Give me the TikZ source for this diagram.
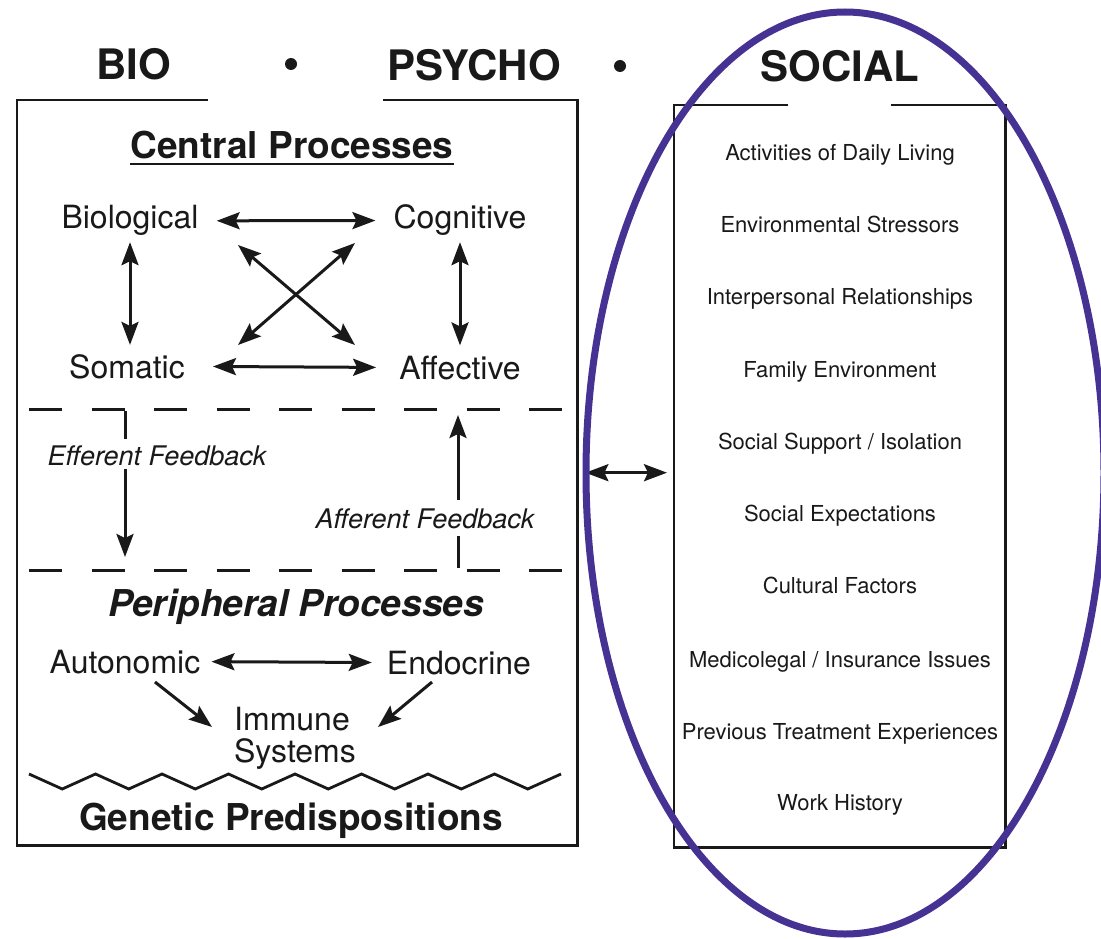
\documentclass[tikz,border=0pt]{standalone}
\usepackage{fontspec}
\setmainfont{TeX Gyre Heros}
\usetikzlibrary{arrows.meta}
\definecolor{ovalpurple}{RGB}{70,50,146}
\definecolor{ink}{RGB}{25,25,25}
\begin{document}
\begin{tikzpicture}[x=1pt,y=-1pt,
  every node/.style={text=ink},
  lbl/.style={inner sep=0pt, anchor=base, font=\fontsize{32}{36}\selectfont},
  head/.style={inner sep=0pt, anchor=base, font=\fontsize{42}{46}\selectfont\bfseries},
  title/.style={inner sep=0pt, anchor=base, font=\fontsize{37}{40}\selectfont\bfseries},
  fb/.style={inner sep=0pt, anchor=base, font=\fontsize{27}{30}\selectfont\itshape},
  soc/.style={inner sep=0pt, anchor=base, font=\fontsize{22}{24}\selectfont},
  box/.style={draw=ink, line width=2.3pt},
  arr/.style={draw=ink, line width=3pt, -{Stealth[length=23pt,width=17pt,inset=4pt]}},
  darr/.style={draw=ink, line width=3pt, {Stealth[length=23pt,width=17pt,inset=4pt]}-{Stealth[length=23pt,width=17pt,inset=4pt]}},
  plain/.style={draw=ink, line width=3pt},
  dline/.style={draw=ink, line width=3pt, dash pattern=on 33pt off 29.5pt},
  oval/.style={draw=ovalpurple, line width=7pt}
]
\fill[white] (0,0) rectangle (1101,939);
\clip (0,0) rectangle (1101,939);

% headings
\node[head] (bioh) at (134,80) {BIO};
\node[head] (psyh) at (474,81) {PSYCHO};
\node[head] (soch) at (840,82) {SOCIAL};
\fill[ink] (291,64) circle (6);
\fill[ink] (620,66) circle (6);

% boxes
\node[minimum width=560pt, minimum height=745pt, inner sep=0pt, anchor=north west] (L) at (17,100) {};
\node[minimum width=331pt, minimum height=742pt, inner sep=0pt, anchor=north west] (R) at (674,105) {};
\draw[box] ([xshift=191pt]L.north west) -- (L.north west) -- (L.south west) -- (L.south east) -- (L.north east) -- ([xshift=-194pt]L.north east);
\draw[box] ([xshift=114pt]R.north west) -- (R.north west) -- (R.south west) -- (R.south east) -- (R.north east) -- ([xshift=-114pt]R.north east);

% central processes
\node[title] (cp) at (292,159) {Central Processes};
\draw[line width=2.4pt, draw=ink] ([yshift=-5pt]cp.base west) -- ([yshift=-5pt]cp.base east);

\node[lbl] (bio) at (130,229) {Biological};
\node[lbl] (cog) at (460,229) {Cognitive};
\node[lbl] (som) at (127,378) {Somatic};
\node[lbl] (aff) at (460,379) {Affective};

\draw[darr, shorten <=18pt, shorten >=18pt] (bio.east) -- (cog.west);
\draw[darr, shorten <=28pt, shorten >=23pt] (som.east) -- (aff.west);
\draw[darr, shorten <=6pt, shorten >=9pt] (bio.south) -- (bio.south |- som.north);
\draw[darr, shorten <=6pt, shorten >=10pt] (cog.south) -- (cog.south |- aff.north);

\coordinate (x1a) at (238,245);
\coordinate (x1b) at (355,345);
\coordinate (x2a) at (355,243);
\coordinate (x2b) at (238,345);
\draw[darr] (x1a) -- (x1b);
\draw[darr] (x2a) -- (x2b);

% dashed separators
\coordinate (d1l) at (29,409);
\coordinate (d1r) at (562,409);
\coordinate (d2l) at (29,570);
\coordinate (d2r) at (562,570);
\draw[dline] (d1l) -- (d1r);
\draw[dline] (d2l) -- (d2r);

% feedback
\node[fb] (eff) at (157,465) {Efferent Feedback};
\node[fb] (afb) at (425,528) {Afferent Feedback};
\coordinate (efft) at (125,409);
\coordinate (effb) at (125,570);
\coordinate (afft) at (458,409);
\coordinate (affb) at (458,570);
\draw[plain, shorten <=2pt, shorten >=6pt] (efft) -- (efft |- eff.north);
\draw[arr, shorten <=3pt, shorten >=13pt] (effb |- eff.south) -- (effb);
\draw[plain, shorten <=2pt, shorten >=7pt] (affb) -- (affb |- afb.south);
\draw[arr, shorten <=8pt, shorten >=6pt] (afft |- afb.north) -- (afft);

% peripheral processes
\node[title, font=\fontsize{37}{40}\selectfont\bfseries\itshape] (pp) at (296,616) {Peripheral Processes};
\node[lbl] (aut) at (125,673) {Autonomic};
\node[lbl] (end) at (459,674) {Endocrine};
\node[lbl] (imm) at (292,730) {Immune};
\node[lbl] (sys) at (295,762) {Systems};
\draw[darr, shorten <=11pt, shorten >=15pt] (aut.east) -- (end.west);
\coordinate (a1) at (155,682);
\coordinate (a2) at (212,727);
\coordinate (e1) at (432,682);
\coordinate (e2) at (378,727);
\draw[arr] (a1) -- (a2);
\draw[arr] (e1) -- (e2);

% zigzag
\draw[draw=ink, line width=2.8pt, line join=miter]
  (29,774) \foreach \i in {1,...,16} {
    -- ({29+\i*33.25}, {mod(\i,2)==1 ? 789 : 774})
  };

\node[title] (gp) at (291,830) {Genetic Predispositions};

% social list
\foreach \yy/\t [count=\k] in {153/Activities of Daily Living, 225/Environmental Stressors, 297/Interpersonal Relationships, 370/Family Environment, 442/Social Support \slash{} Isolation, 514/Social Expectations, 586/Cultural Factors, 660/Medicolegal \slash{} Insurance Issues, 732/Previous Treatment Experiences, 803/Work History} {
  \node[soc] (s\k) at (840,\yy+7.5) {\t};
}

% link between panels
\draw[darr, shorten <=8pt, shorten >=7pt] (L.east) -- (L.east -| R.west);

% purple oval
\draw[oval] (845,473) ellipse [x radius=259, y radius=461];
\end{tikzpicture}
\end{document}
